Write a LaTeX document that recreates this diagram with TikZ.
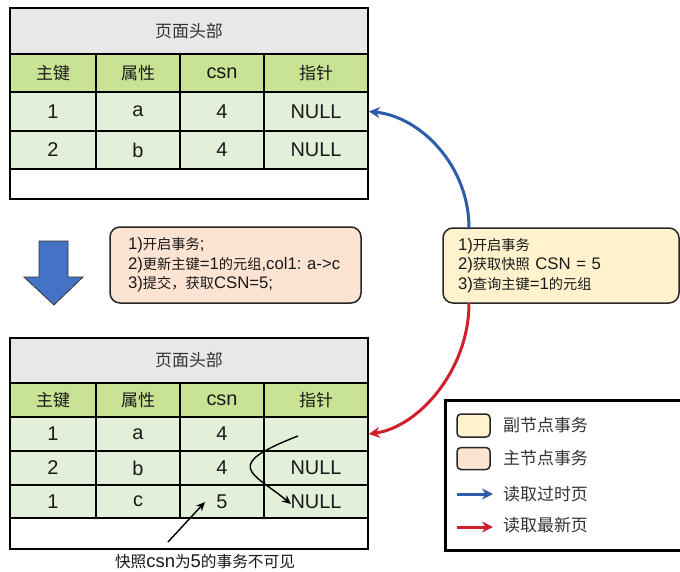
\documentclass[tikz,border=0pt]{standalone}
\usepackage{fontspec}
\setmainfont{Liberation Sans}
\newfontfamily\zhfont{Noto Sans CJK SC}[Scale=0.85]
\usetikzlibrary{arrows.meta}
\newcommand\zh[1]{{\zhfont #1}}
\definecolor{hdrgray}{HTML}{E8E8E8}
\definecolor{colgreen}{HTML}{C9E394}
\definecolor{rowgreen}{HTML}{E2F0D9}
\definecolor{peach}{HTML}{FDE4D2}
\definecolor{paleyel}{HTML}{FFF2CC}
\definecolor{oldblue}{HTML}{2E5DA8}
\definecolor{newred}{HTML}{D0202E}
\definecolor{bigblue}{HTML}{4472C4}
\definecolor{txtgray}{HTML}{333333}
\frenchspacing
\begin{document}
\begin{tikzpicture}[x=1bp,y=-1bp,
  tcell/.style={draw=black, line width=1.5bp, inner sep=0pt, text=black!90,
    font=\fontsize{20}{24}\selectfont},
  txtbox/.style={draw=black!85, line width=1.5bp, rounded corners=10bp, align=left,
    inner ysep=0pt, text=black!90, font=\fontsize{16.8}{19.5}\selectfont},
  swatch/.style={draw=black!85, line width=1.5bp, rounded corners=4bp, inner sep=0pt,
    minimum width=33bp},
  legtext/.style={anchor=west, text=txtgray, font=\fontsize{20}{24}\selectfont, inner sep=0pt},
  oldarr/.style={draw=oldblue, line width=3bp, -{Stealth[length=11bp,width=11bp]}},
  newarr/.style={draw=newred, line width=3bp, -{Stealth[length=11bp,width=11bp]}},
  thinarr/.style={draw=black, line width=1.4bp, -{Stealth[length=9bp,width=8bp]}}
]
\useasboundingbox (0,0) rectangle (680,572);
\fill[white] (0,0) rectangle (680,572);

% ---------- top table ----------
\node[tcell, fill=hdrgray, minimum width=358bp, minimum height=46bp, text=txtgray] (tH) at (189,31) {\zh{页面头部}};
\node[tcell, fill=colgreen, minimum width=86bp,  minimum height=38bp] (tCa) at (53,73)  {\zh{主键}};
\node[tcell, fill=colgreen, minimum width=84bp,  minimum height=38bp] (tCb) at (138,73) {\zh{属性}};
\node[tcell, fill=colgreen, minimum width=84bp,  minimum height=38bp] (tCc) at (222,73) {csn};
\node[tcell, fill=colgreen, minimum width=104bp, minimum height=38bp] (tCd) at (316,73) {\zh{指针}};
\node[tcell, fill=rowgreen, minimum width=86bp,  minimum height=39bp] (tAa) at (53,111.5)  {1};
\node[tcell, fill=rowgreen, minimum width=84bp,  minimum height=39bp] (tAb) at (138,111.5) {a};
\node[tcell, fill=rowgreen, minimum width=84bp,  minimum height=39bp] (tAc) at (222,111.5) {4};
\node[tcell, fill=rowgreen, minimum width=104bp, minimum height=39bp] (tAd) at (316,111.5) {NULL};
\node[tcell, fill=rowgreen, minimum width=86bp,  minimum height=38bp] (tBa) at (53,150)  {2};
\node[tcell, fill=rowgreen, minimum width=84bp,  minimum height=38bp] (tBb) at (138,150) {b};
\node[tcell, fill=rowgreen, minimum width=84bp,  minimum height=38bp] (tBc) at (222,150) {4};
\node[tcell, fill=rowgreen, minimum width=104bp, minimum height=38bp] (tBd) at (316,150) {NULL};
\node[tcell, fill=white, minimum width=358bp, minimum height=30bp] (tE) at (189,184) {};

% ---------- bottom table ----------
\node[tcell, fill=hdrgray, minimum width=358bp, minimum height=45bp, text=txtgray] (bH) at (189,360.5) {\zh{页面头部}};
\node[tcell, fill=colgreen, minimum width=86bp,  minimum height=34bp] (bCa) at (53,400)  {\zh{主键}};
\node[tcell, fill=colgreen, minimum width=84bp,  minimum height=34bp] (bCb) at (138,400) {\zh{属性}};
\node[tcell, fill=colgreen, minimum width=84bp,  minimum height=34bp] (bCc) at (222,400) {csn};
\node[tcell, fill=colgreen, minimum width=104bp, minimum height=34bp] (bCd) at (316,400) {\zh{指针}};
\node[tcell, fill=rowgreen, minimum width=86bp,  minimum height=34bp] (bAa) at (53,434)  {1};
\node[tcell, fill=rowgreen, minimum width=84bp,  minimum height=34bp] (bAb) at (138,434) {a};
\node[tcell, fill=rowgreen, minimum width=84bp,  minimum height=34bp] (bAc) at (222,434) {4};
\node[tcell, fill=rowgreen, minimum width=104bp, minimum height=34bp] (bAd) at (316,434) {};
\node[tcell, fill=rowgreen, minimum width=86bp,  minimum height=34bp] (bBa) at (53,468)  {2};
\node[tcell, fill=rowgreen, minimum width=84bp,  minimum height=34bp] (bBb) at (138,468) {b};
\node[tcell, fill=rowgreen, minimum width=84bp,  minimum height=34bp] (bBc) at (222,468) {4};
\node[tcell, fill=rowgreen, minimum width=104bp, minimum height=34bp] (bBd) at (316,468) {NULL};
\node[tcell, fill=rowgreen, minimum width=86bp,  minimum height=33bp] (bDa) at (53,501.5)  {1};
\node[tcell, fill=rowgreen, minimum width=84bp,  minimum height=33bp] (bDb) at (138,501.5) {c};
\node[tcell, fill=rowgreen, minimum width=84bp,  minimum height=33bp] (bDc) at (222,501.5) {5};
\node[tcell, fill=rowgreen, minimum width=104bp, minimum height=33bp] (bDd) at (316,501.5) {NULL};
\node[tcell, fill=white, minimum width=358bp, minimum height=31bp] (bE) at (189,533.5) {};

% ---------- big down arrow ----------
\draw[fill=bigblue, draw=black!80, line width=0.8bp, line join=miter]
  (39,241) -- (68,241) -- (68,277) -- (83,277) -- (54,305) -- (24,277) -- (39,277) -- cycle;

% ---------- transaction boxes ----------
\node[txtbox, fill=peach, text width=215bp, inner xsep=18bp, minimum height=76bp] (pbox) at (235.5,265)
  {1)\zh{开启事务}; \\ 2)\zh{更新主键}=1\zh{的元组},col1: a->c \\ 3)\zh{提交，获取}CSN=5;};
\node[txtbox, fill=paleyel, text width=206bp, inner xsep=15bp, minimum height=75bp] (ybox) at (561,265.5)
  {1)\zh{开启事务} \\ 2)\zh{获取快照} CSN = 5 \\ 3)\zh{查询主键}=1\zh{的元组}};

% ---------- read arrows ----------
\coordinate (ytop) at (469,228);
\coordinate (ybot) at (469,303);
\draw[oldarr] (ytop) .. controls +(0,-62) and +(52,5) .. (tAd.east);
\draw[newarr] (ybot) .. controls +(0,67) and +(50,-7) .. (bAd.east);

% ---------- pointer arrow ----------
\coordinate (pstart) at (298,436);
\coordinate (pend) at (291,504);
\draw[thinarr] (pstart) .. controls (221,466) and (252,472) .. (pend);

% ---------- caption ----------
\node[font=\fontsize{18.5}{21}\selectfont, text=black!90, inner sep=0pt] (cap) at (205,562)
  {\zh{快照}csn\zh{为}5\zh{的事务不可见}};
\coordinate (cstart) at (168,542);
\coordinate (cend) at (205,502);
\draw[thinarr] (cstart) -- (cend);

% ---------- legend ----------
\node[draw=black, line width=3bp, minimum width=238bp, minimum height=150bp, inner sep=0pt] (legend) at (564,475) {};
\node[swatch, fill=paleyel, minimum height=23bp] (swY) at (473.5,425.5) {};
\node[swatch, fill=peach, minimum height=22bp] (swP) at (473.5,458.5) {};
\node[legtext] (lY) at (503,425) {\zh{副节点事务}};
\node[legtext] (lP) at (503,458) {\zh{主节点事务}};
\node[legtext] (lB) at (503,494) {\zh{读取过时页}};
\node[legtext] (lR) at (503,525) {\zh{读取最新页}};
\coordinate (lbs) at (457,494);
\coordinate (lbe) at (493,494);
\coordinate (lrs) at (457,527);
\coordinate (lre) at (493,527);
\draw[oldarr] (lbs) -- (lbe);
\draw[newarr] (lrs) -- (lre);
\end{tikzpicture}
\end{document}
